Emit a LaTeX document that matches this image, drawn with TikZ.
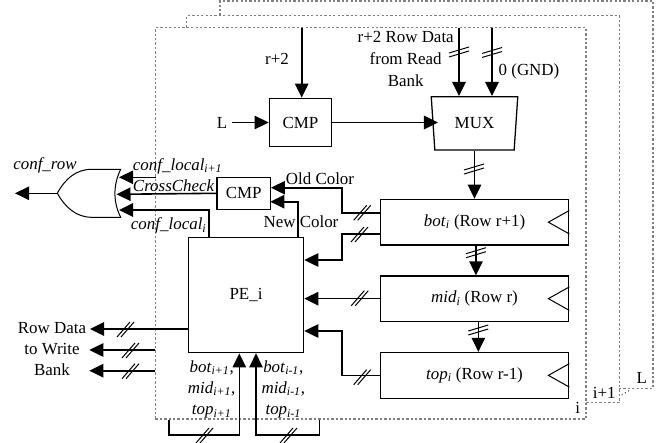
\documentclass[tikz,border=0pt]{standalone}
\usepackage{fontspec}
\setmainfont{Liberation Serif}
\usetikzlibrary{arrows.meta,shapes.geometric}
\newcommand{\lowtxt}[1]{\textsubscript{\textit{#1}}}
\tikzset{
	>={Triangle[length=10.5pt,width=10pt]},
	wire/.style={line width=1.2pt},
	block/.style={draw, line width=0.95pt, inner sep=0pt, align=center},
	frameline/.style={draw=black!50, line width=0.9pt, dash pattern=on 1.7pt off 1.6pt},
	label/.style={inner sep=0pt, align=center}
}
\begin{document}
\begin{tikzpicture}[x=0.75pt, y=-0.75pt, font=\fontsize{12.7}{15}\selectfont]
	\useasboundingbox (0,0) rectangle (662,443);

	% stacked frames
	\node[frameline, minimum width=322.9pt, minimum height=293.5pt, inner sep=0pt] (framei) at (370.75,223.35) {};
	\draw[frameline] (186.7,27.7) |- (619.3,15.7) |- (586,402.7);
	\draw[frameline] (220,15.7) |- (653,1) |- (619.3,388.3);
	\draw[black!70, line width=0.8pt, dotted] (621.7,395) -- (630,390);
	\node[label] (ilabel) at (577.7,407.7) {i};
	\node[label] (nextlabel) at (604.3,393.3) {i+1};
	\node[label] (llabel) at (641.7,377.7) {L};

	% blocks
	\node[block, minimum width=46.8pt, minimum height=36.3pt] (cmprow) at (300.5,122.5) {CMP};
	\node[block, minimum width=40pt, minimum height=24pt] (cmpcolor) at (243.65,193.3) {CMP};
	\node[block, trapezium, shape border rotate=180, trapezium stretches=true, trapezium angle=81, minimum width=65pt, minimum height=40pt] (mux) at (474.5,123.3) {MUX};
	\node[block, minimum width=141.3pt, minimum height=34.3pt] (bot) at (474.5,222.2) {\textit{bot}\lowtxt{i} (Row r+1)};
	\node[block, minimum width=141.3pt, minimum height=34pt] (mid) at (474.5,298.65) {\textit{mid}\lowtxt{i} (Row r)};
	\node[block, minimum width=141.3pt, minimum height=34.3pt] (top) at (474.5,375.35) {\textit{top}\lowtxt{i} (Row r-1)};
	\node[block, minimum width=86.5pt, minimum height=86.3pt] (pe) at (246,295.2) {PE\_i};

	% clock marks
	\foreach \n in {bot,mid,top}
		\draw[line width=0.75pt] ([yshift=8.8pt]\n.east) -- ([xshift=-15.7pt]\n.east) -- ([yshift=-8.8pt]\n.east);

	% or gate
	\coordinate (ortip) at (57.3,193.3);
	\draw[line width=0.75pt] (120.7,169.3) -- (91.7,169.3) .. controls (76,169.3) and (65,179) .. (ortip) .. controls (65,207) and (76,217.3) .. (91.7,217.3) -- (120.7,217.3) .. controls (113,202) and (113,185) .. cycle;
	\coordinate (orup) at (119,177.3);
	\coordinate (ormid) at (116.5,194.3);
	\coordinate (orlow) at (119,210);
	\coordinate (orout) at (15,193.3);
	\draw[->, wire] (ortip) -- (orout);

	% inputs from the top
	\coordinate (rin) at (301.7,27.7);
	\coordinate (datain) at (459,27.7);
	\coordinate (gndin) at (492,27.7);
	\coordinate (lin) at (232,122.5);
	\draw[->, wire] (rin) -- (rin |- cmprow.north);
	\draw[->, wire] (lin) -- (cmprow.west);
	\draw[->, wire] (datain) -- (datain |- mux.north);
	\draw[->, wire] (gndin) -- (gndin |- mux.north);
	\draw[->, wire] (cmprow.east) -- ([xshift=4.2pt]cmprow.east -| mux.west);

	% row registers
	\draw[->, wire] (mux.south) -- (mux.south |- bot.north);
	\draw[->, wire] ([xshift=1.1pt]bot.south) -- ([xshift=1.1pt]mid.north);
	\draw[->, wire] ([xshift=2.9pt]mid.south) -- ([xshift=2.9pt]top.north);

	% to the comparator and PE
	\coordinate (oldbend) at (342,187.7);
	\coordinate (newbend) at (342,260);
	\coordinate (topbend) at (342,331);
	\draw[->, wire] ([yshift=7pt]bot.west) -| (oldbend) -- (oldbend -| cmpcolor.east);
	\draw[->, wire] ([yshift=-9pt]bot.west) -| (newbend) -- (newbend -| pe.east);
	\draw[->, wire] (mid.west) -- (mid.west -| pe.east);
	\draw[->, wire] (top.west) -| (topbend) -- (topbend -| pe.east);
	\coordinate (colorin) at (270.3,201.7);
	\draw[->, wire] ([xshift=39.2pt]pe.north) |- (colorin);

	% to the or gate
	\coordinate (confin) at (155.5,177.3);
	\coordinate (confpe) at (209,237.7);
	\draw[->, wire] (confin) -- (orup);
	\draw[->, wire] (cmpcolor.west) -- (ormid);
	\draw[->, wire] (confpe) |- (orlow);

	% row data out
	\coordinate (rowout) at (90,329);
	\coordinate (writeout) at (89.3,350);
	\coordinate (bankout) at (89.3,370.7);
	\draw[->, wire] (pe.west |- rowout) -- (rowout);
	\draw[->, wire] (framei.west |- writeout) -- (writeout);
	\draw[->, wire] (framei.west |- bankout) -- (bankout);

	% neighbours
	\coordinate (leftloop) at (168.7,435);
	\coordinate (rightloop) at (319.3,435);
	\draw[->, wire] (framei.south -| leftloop) -- (leftloop) -| ([xshift=-5pt]pe.south);
	\draw[->, wire] (framei.south -| rightloop) -- (rightloop) -| ([xshift=7.5pt]pe.south);

	% bus marks
	\foreach \x/\y in {361.7/212.3, 359/234, 359.3/297.7, 361.7/376.7, 125/329, 130/350, 130/370.7, 204/435, 288/435} {
		\draw[line width=0.75pt] (\x-8,\y+8) -- (\x+5,\y-7);
		\draw[line width=0.75pt] (\x-4,\y+8) -- (\x+9,\y-7);
	}
	\foreach \x/\y in {459/52, 492/52.5, 474/169, 476/252.7, 478.3/330} {
		\draw[line width=0.75pt] (\x-10,\y+1) -- (\x+10,\y-5);
		\draw[line width=0.75pt] (\x-10,\y+5) -- (\x+10,\y-1);
	}

	% labels
	\node[label] (rtext) at (277,59) {r+2};
	\node[label] (ltext) at (222,122.5) {L};
	\node[label] (datatext) at (405.7,58.5) {r+2 Row Data\\[2pt]from Read\\[1pt]Bank};
	\node[label] (gndtext) at (529,71) {0 (GND)};
	\node[label] (oldtext) at (320,179) {Old Color};
	\node[label] (newtext) at (301,222) {New Color};
	\node[label] (rowtext) at (52,349) {Row Data\\[1pt]to Write\\[1pt]Bank};
	\node[label] (conftext) at (45,165.7) {\textit{conf\_row}};
	\node[label, anchor=west] (confnext) at (132.7,166) {\textit{conf\_local}\lowtxt{i+1}};
	\node[label, anchor=west] (crosstext) at (132.7,185.7) {\textit{CrossCheck}};
	\node[label, anchor=west] (confthis) at (130.7,225.7) {\textit{conf\_local}\lowtxt{i}};
	\node[label] (nexttext) at (211.7,389.5) {\textit{bot}\lowtxt{i+1},\\[1pt]\textit{mid}\lowtxt{i+1},\\[1pt]\textit{top}\lowtxt{i+1}};
	\node[label] (prevtext) at (283.3,389.5) {\textit{bot}\lowtxt{i-1},\\[1pt]\textit{mid}\lowtxt{i-1},\\[1pt]\textit{top}\lowtxt{i-1}};
\end{tikzpicture}
\end{document}
